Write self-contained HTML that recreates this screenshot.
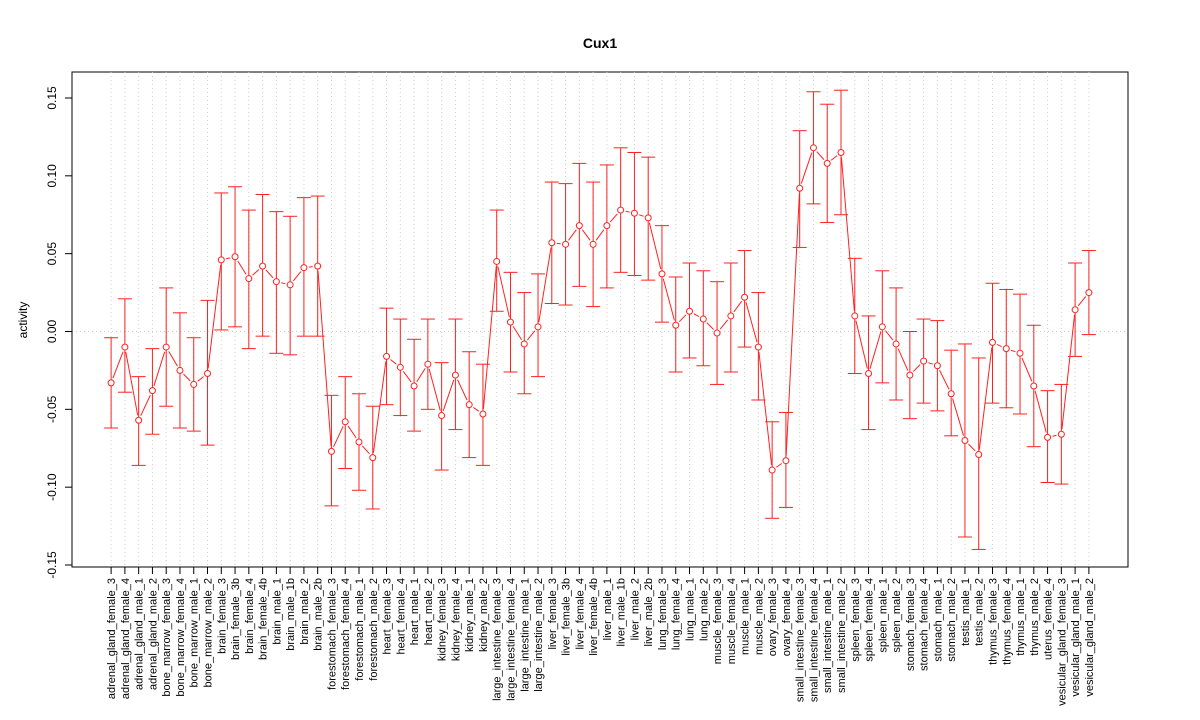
<!DOCTYPE html>
<html><head><meta charset="utf-8"><style>
html,body{margin:0;padding:0;background:#fff;}
svg{display:block;font-family:"Liberation Sans",Arial,sans-serif;}
</style></head><body>
<svg id="chart" width="1200" height="720">
<text x="600" y="48" text-anchor="middle" font-size="14" font-weight="bold">Cux1</text>
<rect x="72" y="72" width="1056" height="495" fill="none" stroke="#000" stroke-width="1"/>
<text transform="translate(27,320) rotate(-90)" text-anchor="middle" font-size="12">activity</text>
<g id="grid"></g><g id="yaxis"></g><g id="xaxis"></g><g id="series"></g>
</svg>
<script>
const categories = ["adrenal_gland_female_3","adrenal_gland_female_4","adrenal_gland_male_1","adrenal_gland_male_2","bone_marrow_female_3","bone_marrow_female_4","bone_marrow_male_1","bone_marrow_male_2","brain_female_3","brain_female_3b","brain_female_4","brain_female_4b","brain_male_1","brain_male_1b","brain_male_2","brain_male_2b","forestomach_female_3","forestomach_female_4","forestomach_male_1","forestomach_male_2","heart_female_3","heart_female_4","heart_male_1","heart_male_2","kidney_female_3","kidney_female_4","kidney_male_1","kidney_male_2","large_intestine_female_3","large_intestine_female_4","large_intestine_male_1","large_intestine_male_2","liver_female_3","liver_female_3b","liver_female_4","liver_female_4b","liver_male_1","liver_male_1b","liver_male_2","liver_male_2b","lung_female_3","lung_female_4","lung_male_1","lung_male_2","muscle_female_3","muscle_female_4","muscle_male_1","muscle_male_2","ovary_female_3","ovary_female_4","small_intestine_female_3","small_intestine_female_4","small_intestine_male_1","small_intestine_male_2","spleen_female_3","spleen_female_4","spleen_male_1","spleen_male_2","stomach_female_3","stomach_female_4","stomach_male_1","stomach_male_2","testis_male_1","testis_male_2","thymus_female_3","thymus_female_4","thymus_male_1","thymus_male_2","uterus_female_4","vesicular_gland_female_3","vesicular_gland_male_1","vesicular_gland_male_2"];
const activity = [-0.033,-0.010,-0.057,-0.038,-0.010,-0.025,-0.034,-0.027,0.046,0.048,0.034,0.042,0.032,0.030,0.041,0.042,-0.077,-0.058,-0.071,-0.081,-0.016,-0.023,-0.035,-0.021,-0.054,-0.028,-0.047,-0.053,0.045,0.006,-0.008,0.003,0.057,0.056,0.068,0.056,0.068,0.078,0.076,0.073,0.037,0.004,0.013,0.008,-0.001,0.010,0.022,-0.010,-0.089,-0.083,0.092,0.118,0.108,0.115,0.010,-0.027,0.003,-0.008,-0.028,-0.019,-0.022,-0.040,-0.070,-0.079,-0.007,-0.011,-0.014,-0.035,-0.068,-0.066,0.014,0.025];
const upper = [-0.004,0.021,-0.029,-0.011,0.028,0.012,-0.004,0.020,0.089,0.093,0.078,0.088,0.077,0.074,0.086,0.087,-0.041,-0.029,-0.040,-0.048,0.015,0.008,-0.005,0.008,-0.020,0.008,-0.013,-0.021,0.078,0.038,0.025,0.037,0.096,0.095,0.108,0.096,0.107,0.118,0.115,0.112,0.068,0.035,0.044,0.039,0.032,0.044,0.052,0.025,-0.058,-0.052,0.129,0.154,0.146,0.155,0.047,0.010,0.039,0.028,0.000,0.008,0.007,-0.012,-0.008,-0.017,0.031,0.027,0.024,0.004,-0.038,-0.034,0.044,0.052];
const lower = [-0.062,-0.039,-0.086,-0.066,-0.048,-0.062,-0.064,-0.073,0.001,0.003,-0.011,-0.003,-0.014,-0.015,-0.003,-0.003,-0.112,-0.088,-0.102,-0.114,-0.047,-0.054,-0.064,-0.050,-0.089,-0.063,-0.081,-0.086,0.013,-0.026,-0.040,-0.029,0.018,0.017,0.029,0.016,0.028,0.038,0.036,0.033,0.006,-0.026,-0.017,-0.022,-0.034,-0.026,-0.010,-0.044,-0.120,-0.113,0.054,0.082,0.070,0.075,-0.027,-0.063,-0.033,-0.044,-0.056,-0.046,-0.051,-0.067,-0.132,-0.140,-0.046,-0.049,-0.053,-0.074,-0.097,-0.098,-0.016,-0.002];
const yTicks = [-0.15,-0.10,-0.05,0.00,0.05,0.10,0.15];
const yTickLabels = ["-0.15","-0.10","-0.05","0.00","0.05","0.10","0.15"];

const NS="http://www.w3.org/2000/svg";
const n = categories.length;
const ext = (n-1)*0.04;
function xs(i){ return 72 + (i+1 - (1-ext)) * 1056/((n-1)+2*ext); }
function ys(v){ return 331.5 - v*1556.7; }
function mk(tag, attrs, parent){ const e=document.createElementNS(NS,tag); for(const k in attrs) e.setAttribute(k,attrs[k]); parent.appendChild(e); return e; }
const grid=document.getElementById('grid'), ya=document.getElementById('yaxis'), xa=document.getElementById('xaxis'), se=document.getElementById('series');

const h0=mk('line',{x1:72,x2:1128,y1:ys(0),y2:ys(0),stroke:'#ccc','stroke-dasharray':'1,3'},grid);



yTicks.forEach((t,k)=>{
  const y=ys(t);
  const tl=mk('line',{x1:65,x2:72,y1:y,y2:y,stroke:'#000'},ya);
  
  
  const tx=mk('text',{transform:`translate(56,${y}) rotate(-90)`,'text-anchor':'middle','font-size':'12'},ya);
  tx.textContent=yTickLabels[k];
  
  
});
mk('line',{x1:72,x2:72,y1:ys(yTicks[0]),y2:ys(yTicks[yTicks.length-1]),stroke:'#000'},ya);

categories.forEach((c,i)=>{
  const x=xs(i);
  const g=mk('line',{x1:x,x2:x,y1:72,y2:567,stroke:'#ccc','stroke-dasharray':'1,3'},grid);
  
  
  const tl=mk('line',{x1:x,x2:x,y1:567,y2:574,stroke:'#000'},xa);
  
  
  const tx=mk('text',{transform:`translate(${x+4},578) rotate(-90)`,'text-anchor':'end','font-size':'11'},xa);
  tx.textContent=c;
  
  
});

const red='#ff2020';
// connecting lines with gaps at points
for(let i=0;i<n-1;i++){
  const x1=xs(i),y1=ys(activity[i]),x2=xs(i+1),y2=ys(activity[i+1]);
  const dx=x2-x1,dy=y2-y1,L=Math.hypot(dx,dy);
  if(L<10) continue;
  const ux=dx/L,uy=dy/L,g=5;
  const s=mk('line',{x1:x1+ux*g,y1:y1+uy*g,x2:x2-ux*g,y2:y2-uy*g,stroke:red,'stroke-width':1},se);
  
  
}
categories.forEach((c,i)=>{
  const x=xs(i);
  const e=mk('line',{x1:x,x2:x,y1:ys(upper[i]),y2:ys(lower[i]),stroke:red,'stroke-width':1},se);
  
  
  [upper[i],lower[i]].forEach(v=>{
    const cp=mk('line',{x1:x-7,x2:x+7,y1:ys(v),y2:ys(v),stroke:red,'stroke-width':1},se);
    
    
  });
  const p=mk('circle',{cx:x,cy:ys(activity[i]),r:3,fill:'#fff',stroke:red,'stroke-width':1},se);
  
  
});
</script>
</body></html>
